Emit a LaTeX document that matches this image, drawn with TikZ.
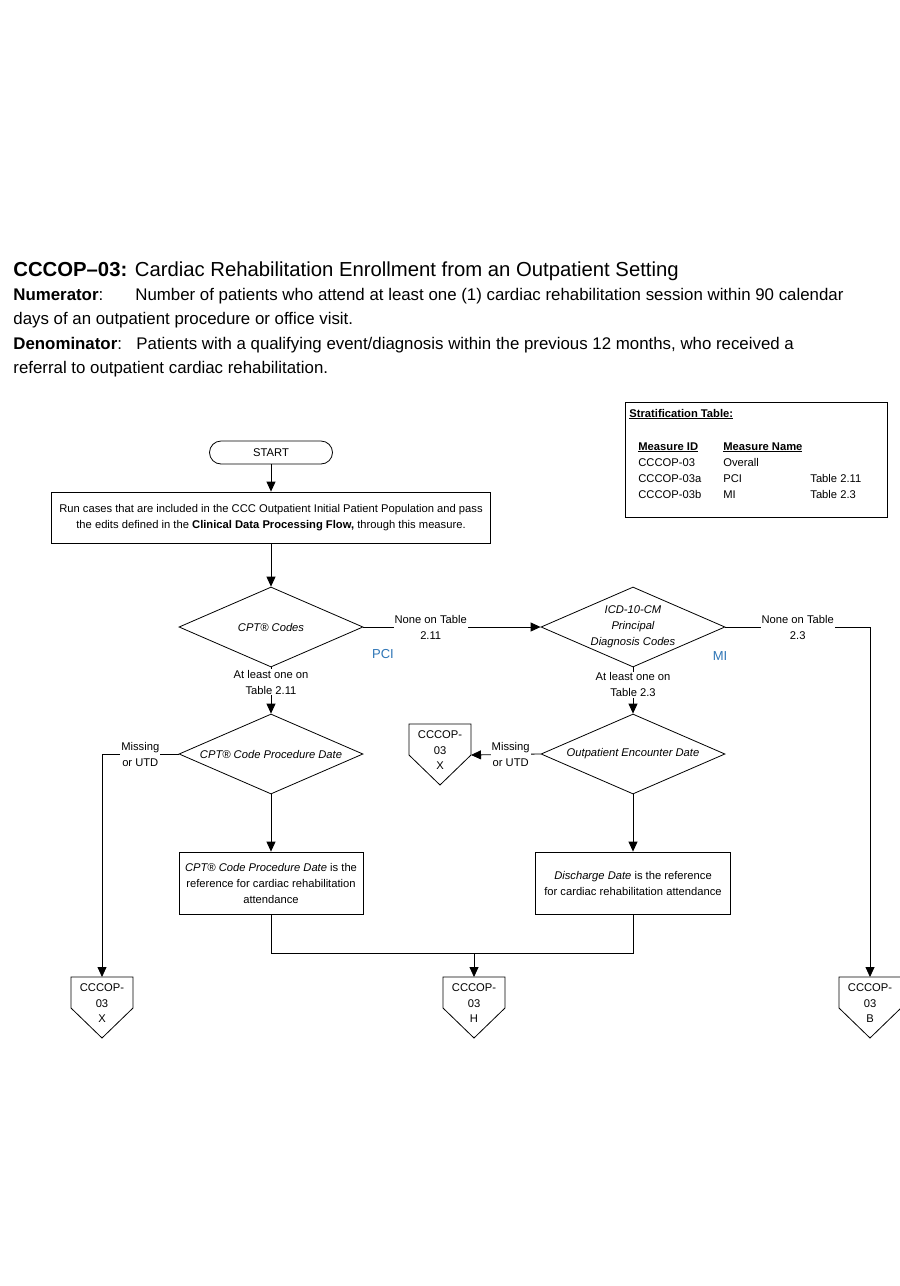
\documentclass[tikz,border=0pt]{standalone}
\usepackage{fontspec}
\setmainfont{Liberation Sans}
\usepackage{tikz}
\usetikzlibrary{positioning,calc,shapes.geometric,arrows.meta}
\definecolor{stratblue}{RGB}{46,117,182}
\tikzstyle{startbox}=[draw, rounded corners=11.5pt, minimum width=123pt, minimum height=23pt, inner sep=0pt]
\tikzstyle{procbox}=[draw, align=center, minimum height=62pt, inner sep=2pt]
\tikzstyle{dec}=[diamond, draw, aspect=2.3, minimum width=184pt, minimum height=80pt, inner sep=0pt, align=center, font=\fontsize{11.2}{16}\selectfont\itshape]
\tikzstyle{lbl}=[fill=white, align=center, inner sep=1pt]
\tikzstyle{arr}=[-{Triangle[width=9pt,length=10pt]}]
\tikzstyle{strat}=[anchor=base west, inner sep=0pt]
\tikzstyle{head}=[anchor=base west, inner sep=0pt, font=\fontsize{16.85}{20}\selectfont]
\tikzstyle{stratum}=[text=stratblue, font=\fontsize{13}{15}\selectfont]

% off-page connector: name, top point, letter
\newcommand{\offpage}[3]{%
  \coordinate (#1) at (#2);
  \coordinate (#1-e) at ($(#1)+(31,31)$);
  \draw (#1) ++(-31,0) -- ++(62,0) -- ++(0,31) -- ++(-31,30) -- ++(-31,-30) -- cycle;
  \node[align=center, inner sep=0pt, font=\fontsize{11.2}{15.5}\selectfont] (#1-txt) at ($(#1)+(0,26.5)$) {CCCOP-\\03\\#3};
}

\begin{document}
\begin{tikzpicture}[x=1pt, y=-1pt, line width=0.8pt, every node/.style={font=\fontsize{11.2}{16}\selectfont}]
	\fill[white] (0,0) rectangle (900,1286);
	\useasboundingbox (0,0) rectangle (900,1286);

	% heading
	\node[head, font=\fontsize{20.3}{23}\selectfont] (title) at (13,276) {\textbf{CCCOP--03:} Cardiac Rehabilitation Enrollment from an Outpatient Setting};
	\node[head] (numlab) at (13,300) {\textbf{Numerator}:};
	\node[head] (numtxt) at (135,300) {Number of patients who attend at least one (1) cardiac rehabilitation session within 90 calendar};
	\node[head] (numtxt2) at (13,324) {days of an outpatient procedure or office visit.};
	\node[head] (denlab) at (13,349) {\textbf{Denominator}:};
	\node[head] (dentxt) at (136,349) {Patients with a qualifying event/diagnosis within the previous 12 months, who received a};
	\node[head] (dentxt2) at (13,373) {referral to outpatient cardiac rehabilitation.};

	% stratification table
	\node[draw, minimum width=262pt, minimum height=115pt] (stratbox) at (756,459.5) {};
	\node[strat] (strattitle) at (629,417) {\underline{\textbf{Stratification Table:}}};
	\node[strat] (idhead) at (638,450) {\underline{\textbf{Measure ID}}};
	\node[strat] (namehead) at (723,450) {\underline{\textbf{Measure Name}}};
	\foreach \mid/\mname/\mtab [count=\i] in {CCCOP-03/Overall/, CCCOP-03a/PCI/Table 2.11, CCCOP-03b/MI/Table 2.3} {
		\node[strat] (id\i) at (638,450+16*\i) {\mid};
		\node[strat] (name\i) at (723,450+16*\i) {\mname};
		\node[strat] (tab\i) at (810,450+16*\i) {\mtab};
	}

	% flow
	\node[startbox] (start) at (271,452.5) {START};
	\node[procbox, minimum width=439pt, minimum height=51pt] (run) at (271,517.5) {Run cases that are included in the CCC Outpatient Initial Patient Population and pass\\the edits defined in the \textbf{Clinical Data Processing Flow,} through this measure.};
	\node[dec] (cpt) at (271,627) {CPT® Codes};
	\node[dec] (icd) at (633,627) {ICD-10-CM\\Principal\\Diagnosis Codes};
	\node[stratum] (pci) at (383,654) {PCI};
	\node[stratum] (mi) at (720,656) {MI};
	\node[dec] (cptdate) at (271,754) {CPT® Code Procedure Date};
	\node[dec] (encdate) at (633,754) {Outpatient Encounter Date};
	\node[procbox, minimum width=184pt] (cptref) at (271,883) {\textit{CPT® Code Procedure Date} is the\\reference for cardiac rehabilitation\\attendance};
	\node[procbox, minimum width=195pt] (disref) at (633,883) {\textit{Discharge Date} is the reference\\for cardiac rehabilitation attendance};

	\offpage{offXa}{440,724}{X}
	\offpage{offX}{102,977}{X}
	\offpage{offH}{474,977}{H}
	\offpage{offB}{870,977}{B}
	\coordinate (join) at (474,953);

	\draw[arr] (start) -- (run);
	\draw[arr] (run) -- (cpt);
	\draw[arr] (cpt) -- node[lbl, pos=0.38] {None on Table\\2.11} (icd);
	\draw[arr] (cpt) -- node[lbl, pos=0.32] {At least one on\\Table 2.11} (cptdate);
	\draw[arr] (icd.east) -| node[lbl, pos=0.25] {None on Table\\2.3} (offB);
	\draw[arr] (icd) -- node[lbl, pos=0.38] {At least one on\\Table 2.3} (encdate);
	\draw[arr] (cptdate.west) -| node[lbl, pos=0.25] {Missing\\or UTD} (offX);
	\draw[arr] (encdate.west) -- node[lbl, pos=0.43] {Missing\\or UTD} (offXa-e);
	\draw[arr] (cptdate) -- (cptref);
	\draw[arr] (encdate) -- (disref);
	\draw (cptref) |- (join);
	\draw (disref) |- (join);
	\draw[arr] (join) -- (offH);
\end{tikzpicture}
\end{document}
